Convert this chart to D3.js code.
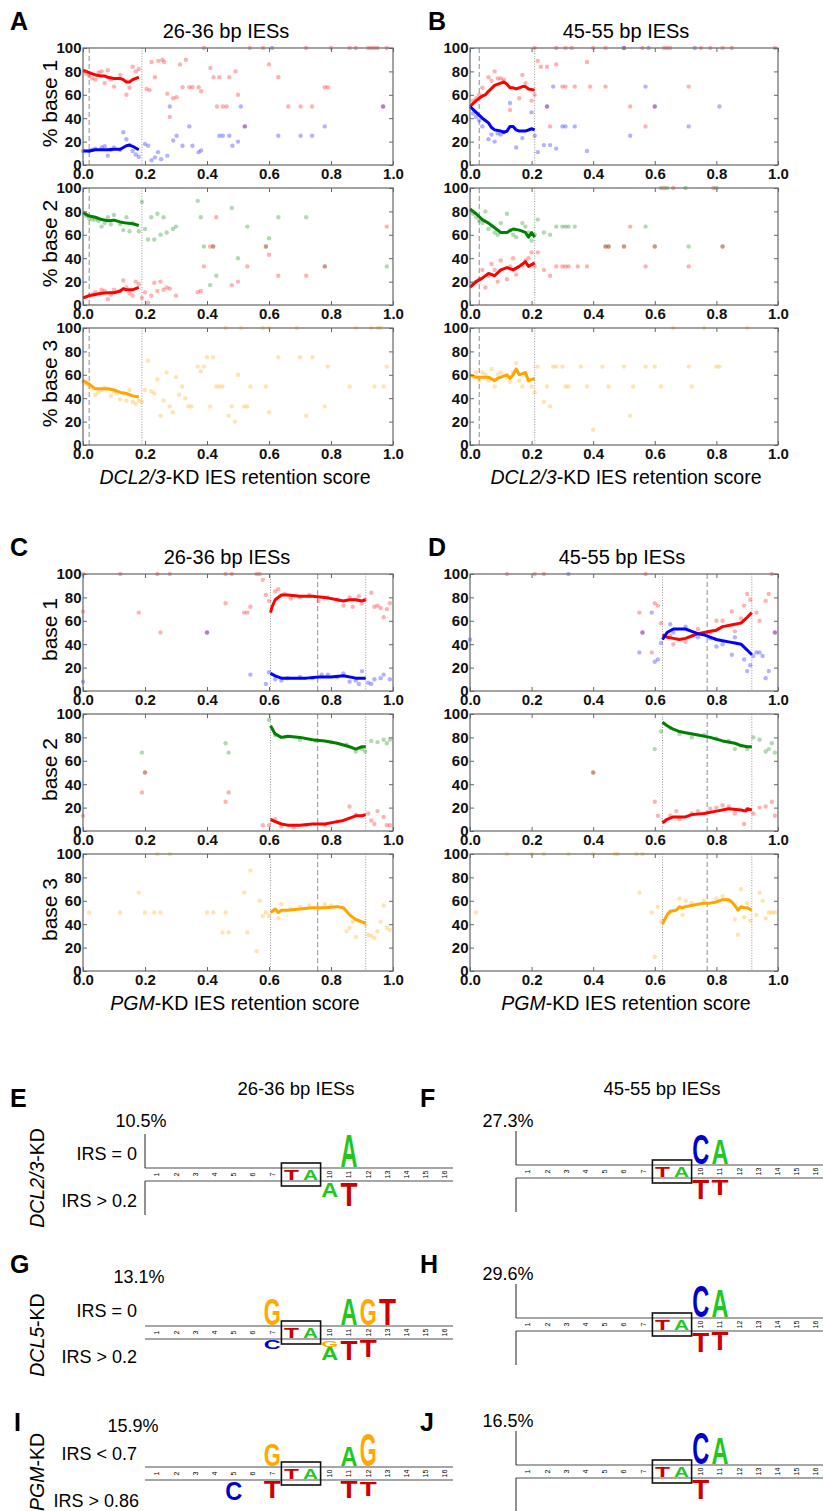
<!DOCTYPE html>
<html>
<head>
<meta charset="utf-8">
<script src="https://cdn.jsdelivr.net/npm/d3@7"></script>
<style>
  body { margin: 0; background: #fff; }
  svg { font-family: "Liberation Sans", Arial, sans-serif; }
</style>
</head>
<body>
<div id="fig"></div>
<script>
// ---------- data ----------
const xTicks = [0, 0.2, 0.4, 0.6, 0.8, 1.0];
const yTicks = [0, 20, 40, 60, 80, 100];

// panel A (DCL2/3-KD, 26-36 bp)
const aB1Red = [[0.01,78],[0.02,76],[0.03,74],[0.04,73],[0.05,79],[0.06,80],[0.07,70],[0.08,81],[0.09,73],[0.10,67],[0.12,77],[0.14,60],[0.15,66],[0.16,84],[0.17,80],[0.18,82],[0.205,65],[0.215,64],[0.221,88],[0.232,75],[0.243,89],[0.256,90],[0.262,88],[0.272,61],[0.28,41],[0.291,57],[0.302,58],[0.313,86],[0.321,66.5],[0.332,90],[0.343,66.5],[0.353,66.5],[0.373,66.5],[0.381,63],[0.39,100],[0.411,83],[0.421,75],[0.432,50],[0.44,75],[0.451,50],[0.463,50],[0.472,75],[0.492,80],[0.50,60],[0.522,33],[0.538,100],[0.581,100],[0.60,86],[0.63,75],[0.662,50],[0.702,50],[0.72,100],[0.739,50],[0.78,66.5],[0.79,66.5],[0.80,100],[0.86,100],[0.88,100],[0.92,100],[0.93,100],[0.94,100],[0.95,100],[0.968,50],[0.98,100]];
const aB1Blue = [[0.0,12],[0.02,12],[0.03,13],[0.04,14],[0.06,15],[0.07,16],[0.08,8],[0.09,13],[0.10,15],[0.12,13],[0.13,28],[0.14,22],[0.15,17],[0.16,12],[0.17,9],[0.18,7],[0.20,18],[0.21,16.5],[0.221,4],[0.232,6.5],[0.242,11],[0.252,5],[0.272,8],[0.28,50],[0.291,21],[0.302,25],[0.321,16.5],[0.343,33],[0.353,16.5],[0.373,11],[0.381,12.5],[0.44,25],[0.451,25],[0.472,25],[0.482,16.5],[0.50,20],[0.509,50],[0.522,33],[0.61,100],[0.63,25],[0.702,25],[0.739,25],[0.78,33],[0.968,50]];
const aB1RedLine = [[0,81],[0.02,79],[0.04,77],[0.06,76],[0.07,76],[0.08,75],[0.10,74],[0.12,74],[0.13,73],[0.14,71],[0.15,71],[0.16,73],[0.18,75]];
const aB1BlueLine = [[0,12],[0.02,12],[0.04,13],[0.06,13],[0.08,13],[0.10,13.5],[0.12,13.5],[0.13,15],[0.14,16.5],[0.15,17],[0.16,16],[0.18,13]];
const aB2Green = [[0.01,76],[0.02,74],[0.03,73],[0.04,73],[0.05,72],[0.06,67],[0.07,70],[0.08,75],[0.09,69],[0.10,77],[0.12,69],[0.13,64],[0.14,75],[0.15,63],[0.16,70],[0.18,63],[0.19,88],[0.20,65],[0.21,56],[0.22,75],[0.23,56],[0.24,78],[0.25,60],[0.26,75],[0.27,62],[0.29,65],[0.30,67],[0.37,89],[0.38,75],[0.39,50],[0.41,17],[0.42,50],[0.43,25],[0.48,83],[0.50,40],[0.53,67],[0.59,50],[0.60,57],[0.63,75],[0.72,75],[0.78,33],[0.98,33]];
const aB2Red = [[0.02,8],[0.03,9],[0.04,11],[0.06,13],[0.07,12],[0.08,5],[0.09,9],[0.10,13],[0.12,12],[0.13,21],[0.14,15],[0.15,10],[0.16,8],[0.17,20],[0.18,18],[0.19,6],[0.20,11],[0.21,2],[0.22,8],[0.23,19],[0.24,12],[0.25,20],[0.26,13],[0.27,15],[0.28,14],[0.30,8],[0.37,11],[0.38,12],[0.39,33],[0.41,50],[0.42,50],[0.43,75],[0.48,17],[0.50,20],[0.53,33],[0.59,50],[0.60,43],[0.63,25],[0.72,25],[0.78,33],[0.98,67]];
const aB2GreenLine = [[0,79],[0.02,76],[0.04,75],[0.06,73],[0.08,72],[0.10,72.5],[0.12,71],[0.14,70],[0.16,69.5],[0.18,68]];
const aB2RedLine = [[0,6],[0.02,8],[0.04,9],[0.06,10],[0.08,10.5],[0.10,10.5],[0.12,12],[0.13,14],[0.14,13],[0.16,13],[0.18,15]];
const aB3Orange = [[0.0,54],[0.01,52],[0.02,50],[0.03,48],[0.04,43],[0.05,45],[0.06,47],[0.07,49],[0.08,48],[0.09,42],[0.10,46],[0.11,44],[0.12,39],[0.13,44],[0.14,38],[0.15,47],[0.16,37],[0.17,35],[0.18,38],[0.19,37],[0.20,47],[0.21,72],[0.22,46],[0.23,44],[0.24,56],[0.25,25],[0.26,38],[0.27,62],[0.28,33],[0.29,28],[0.30,58],[0.31,43],[0.32,50],[0.33,40],[0.34,33],[0.35,33],[0.37,67],[0.38,63],[0.39,67],[0.40,75],[0.41,33],[0.42,75],[0.43,50],[0.44,50],[0.45,50],[0.46,100],[0.47,25],[0.48,33],[0.49,20],[0.50,60],[0.51,100],[0.52,33],[0.53,33],[0.54,50],[0.58,100],[0.59,50],[0.60,28],[0.60,100],[0.63,75],[0.69,100],[0.70,75],[0.72,25],[0.74,75],[0.78,33],[0.79,67],[0.86,50],[0.88,100],[0.93,100],[0.94,50],[0.95,100],[0.96,100],[0.97,50],[0.98,67]];
const aB3OrangeLine = [[0,55],[0.02,52],[0.04,48],[0.06,48],[0.08,48],[0.10,47],[0.12,45],[0.14,44],[0.16,42],[0.18,41]];

// panel B (DCL2/3-KD, 45-55 bp)
const bB1Red = [[0.01,55],[0.02,57],[0.03,60],[0.04,66],[0.06,75],[0.07,72],[0.08,80],[0.09,74],[0.10,74],[0.11,73],[0.13,47],[0.16,57],[0.17,77],[0.18,70],[0.20,55],[0.21,60],[0.21,100],[0.22,89],[0.23,84],[0.25,84],[0.25,50],[0.26,33],[0.28,86],[0.28,100],[0.30,67],[0.31,67],[0.31,100],[0.33,100],[0.34,67],[0.38,88],[0.39,67],[0.40,100],[0.44,67],[0.44,100],[0.50,100],[0.52,50],[0.56,100],[0.57,33],[0.60,50],[0.63,100],[0.64,100],[0.65,100],[0.71,67],[0.75,100],[0.78,100],[0.82,100],[0.85,100],[0.99,100]];
const bB1Blue = [[0.01,44],[0.02,41],[0.03,38],[0.04,33],[0.06,22],[0.07,26],[0.08,20],[0.09,27],[0.10,26],[0.11,28],[0.13,53],[0.15,15],[0.17,23],[0.20,45],[0.21,25],[0.22,11],[0.24,17],[0.25,50],[0.26,17],[0.27,67],[0.28,14],[0.30,33],[0.31,33],[0.34,33],[0.38,12],[0.50,100],[0.52,25],[0.57,67],[0.58,100],[0.60,50],[0.71,33],[0.73,100],[0.81,50]];
const bB1RedLine = [[0,50],[0.02,55],[0.04,59],[0.05,60],[0.06,63],[0.08,68],[0.10,70],[0.11,71],[0.12,69],[0.13,66],[0.14,66],[0.15,65],[0.16,66],[0.17,67],[0.18,67],[0.19,65],[0.21,64]];
const bB1BlueLine = [[0,50],[0.02,45],[0.04,40],[0.05,38],[0.06,36],[0.07,32],[0.08,30],[0.10,29],[0.11,28],[0.12,29],[0.13,33],[0.14,33],[0.15,30],[0.16,29],[0.18,29],[0.20,31],[0.21,30]];
const bB2Green = [[0.01,78],[0.02,75],[0.03,72],[0.04,70],[0.05,80],[0.06,65],[0.07,68],[0.08,62],[0.09,60],[0.10,70],[0.12,78],[0.13,64],[0.14,60],[0.15,58],[0.17,70],[0.18,67],[0.19,62],[0.20,55],[0.21,60],[0.22,73],[0.24,62],[0.26,60],[0.28,67],[0.30,67],[0.31,67],[0.32,67],[0.34,67],[0.44,50],[0.45,50],[0.50,50],[0.57,67],[0.60,50],[0.62,100],[0.64,100],[0.70,100],[0.71,50],[0.80,100],[0.82,50]];
const bB2Red = [[0.01,18],[0.02,20],[0.03,22],[0.04,30],[0.05,15],[0.06,25],[0.07,35],[0.08,30],[0.09,20],[0.10,38],[0.12,22],[0.13,33],[0.14,40],[0.15,26],[0.17,34],[0.18,38],[0.19,40],[0.20,45],[0.21,33],[0.22,45],[0.24,30],[0.26,25],[0.28,33],[0.30,33],[0.31,33],[0.32,33],[0.35,33],[0.38,33],[0.44,50],[0.45,50],[0.50,50],[0.52,67],[0.57,33],[0.60,50],[0.63,100],[0.66,100],[0.71,33],[0.79,100],[0.82,50]];
const bB2GreenLine = [[0,82],[0.02,78],[0.04,73],[0.06,70],[0.08,66],[0.10,62],[0.12,62],[0.14,65],[0.16,64],[0.18,62],[0.19,58],[0.20,62],[0.21,58]];
const bB2RedLine = [[0,15],[0.02,20],[0.04,23],[0.06,27],[0.08,25],[0.10,30],[0.12,32],[0.14,30],[0.16,33],[0.18,37],[0.19,33],[0.21,36]];
const bB3Orange = [[0.01,58],[0.02,62],[0.03,55],[0.04,62],[0.05,60],[0.06,55],[0.07,65],[0.08,50],[0.09,60],[0.10,62],[0.12,58],[0.13,54],[0.14,62],[0.15,70],[0.16,55],[0.17,50],[0.18,60],[0.19,55],[0.20,50],[0.21,45],[0.22,67],[0.24,37],[0.25,50],[0.26,33],[0.27,67],[0.28,67],[0.30,67],[0.31,50],[0.32,50],[0.36,67],[0.38,50],[0.40,13],[0.43,67],[0.45,50],[0.50,67],[0.52,25],[0.53,50],[0.57,67],[0.60,67],[0.62,50],[0.66,100],[0.71,67],[0.72,50],[0.76,100],[0.80,67],[0.81,67],[0.90,100]];
const bB3OrangeLine = [[0,60],[0.02,58],[0.04,58],[0.06,58],[0.08,55],[0.09,57],[0.10,58],[0.12,60],[0.13,57],[0.14,60],[0.15,65],[0.16,60],[0.18,62],[0.19,55],[0.21,57]];

// panel C (PGM-KD, 26-36 bp)
const cB1Red = [[0.0,68],[0.0,100],[0.12,100],[0.18,67],[0.24,100],[0.25,50],[0.28,100],[0.40,50],[0.46,75],[0.46,100],[0.48,100],[0.52,67],[0.53,67],[0.54,72],[0.56,100],[0.57,100],[0.58,95],[0.59,82],[0.60,77],[0.62,85],[0.63,87],[0.65,83],[0.67,79],[0.70,80],[0.73,82],[0.76,77],[0.79,80],[0.82,78],[0.84,73],[0.86,80],[0.87,72],[0.89,81],[0.90,75],[0.91,78],[0.93,84],[0.94,72],[0.95,73],[0.96,71],[0.97,63],[0.98,70],[0.99,75]];
const cB1Blue = [[0.0,8],[0.40,50],[0.54,14],[0.59,6],[0.60,16],[0.62,10],[0.64,9],[0.66,11],[0.70,12],[0.74,11],[0.77,14],[0.79,14],[0.82,12],[0.84,15],[0.86,8],[0.88,9],[0.89,6],[0.90,17],[0.92,7],[0.93,6],[0.94,10],[0.96,11],[0.97,14],[0.99,10]];
const cB1RedLine = [[0.605,67],[0.61,72],[0.62,78],[0.64,82],[0.66,82],[0.70,81],[0.74,81],[0.78,80],[0.82,78],[0.84,77],[0.86,78],[0.88,78],[0.90,77],[0.912,78]];
const cB1BlueLine = [[0.605,15],[0.62,13],[0.64,11],[0.68,11],[0.72,11],[0.76,12],[0.80,12],[0.84,13],[0.88,11],[0.90,11],[0.912,11]];
const cB2Green = [[0.19,67],[0.20,50],[0.46,75],[0.47,67],[0.60,95],[0.62,82],[0.65,80],[0.70,78],[0.75,77],[0.80,76],[0.85,74],[0.88,68],[0.90,70],[0.91,68],[0.93,77],[0.95,76],[0.97,78],[0.98,75],[0.99,78]];
const cB2Red = [[0.0,13],[0.19,33],[0.20,50],[0.46,25],[0.47,33],[0.58,5],[0.60,5],[0.62,10],[0.64,4],[0.68,3],[0.72,5],[0.78,5],[0.82,8],[0.86,21],[0.88,14],[0.92,15],[0.93,9],[0.94,6],[0.95,17],[0.97,12],[0.98,5],[0.99,5]];
const cB2GreenLine = [[0.605,90],[0.62,83],[0.64,80],[0.66,81],[0.70,80],[0.74,78],[0.78,77],[0.82,75],[0.86,72],[0.88,70],[0.90,72],[0.912,72]];
const cB2RedLine = [[0.605,10],[0.62,8],[0.64,6],[0.66,5],[0.70,5],[0.74,6],[0.78,6],[0.82,8],[0.84,9],[0.86,11],[0.88,13],[0.90,13],[0.912,14]];
const cB3Orange = [[0.02,50],[0.12,50],[0.18,67],[0.20,50],[0.23,50],[0.24,100],[0.25,50],[0.28,100],[0.40,50],[0.42,50],[0.45,33],[0.46,50],[0.47,33],[0.52,67],[0.53,33],[0.54,86],[0.56,17],[0.57,60],[0.58,47],[0.59,50],[0.60,47],[0.62,52],[0.63,45],[0.64,57],[0.67,53],[0.70,55],[0.73,56],[0.76,53],[0.78,57],[0.80,56],[0.85,34],[0.86,37],[0.87,42],[0.88,29],[0.89,43],[0.91,39],[0.92,31],[0.93,30],[0.94,28],[0.95,34],[0.96,42],[0.97,56],[0.98,37],[0.99,35]];
const cB3OrangeLine = [[0.605,50],[0.62,53],[0.63,50],[0.64,52],[0.66,52],[0.70,53],[0.74,54],[0.78,54],[0.82,55],[0.84,54],[0.86,48],[0.88,44],[0.90,42],[0.912,41]];

// panel D (PGM-KD, 45-55 bp)
const dB1Red = [[0.12,100],[0.21,100],[0.24,100],[0.55,67],[0.56,50],[0.57,100],[0.59,33],[0.60,75],[0.61,73],[0.62,58],[0.65,47],[0.66,40],[0.70,42],[0.74,53],[0.78,50],[0.80,60],[0.82,60],[0.85,68],[0.86,51],[0.88,62],[0.89,73],[0.90,83],[0.91,78],[0.93,67],[0.94,60],[0.96,77],[0.97,83],[0.98,100],[0.99,50]];
const dB1Blue = [[0.0,44],[0.32,100],[0.55,33],[0.56,50],[0.59,67],[0.60,25],[0.61,27],[0.62,41],[0.65,57],[0.66,50],[0.70,55],[0.74,46],[0.78,45],[0.80,38],[0.82,40],[0.85,31],[0.86,46],[0.89,27],[0.90,17],[0.91,22],[0.92,30],[0.93,33],[0.94,33],[0.95,30],[0.96,11],[0.97,17],[0.99,50]];
const dB1RedLine = [[0.625,48],[0.64,46],[0.66,45],[0.68,44],[0.70,45],[0.72,47],[0.74,49],[0.76,50],[0.78,51],[0.80,52],[0.82,55],[0.84,56],[0.86,57],[0.88,58],[0.90,63],[0.915,67]];
const dB1BlueLine = [[0.625,44],[0.64,50],[0.66,53],[0.68,53],[0.70,53],[0.72,51],[0.74,49],[0.76,48],[0.78,46],[0.80,44],[0.82,43],[0.84,42],[0.86,41],[0.88,40],[0.90,35],[0.915,31]];
const dB2Green = [[0.40,50],[0.60,70],[0.62,85],[0.65,88],[0.68,83],[0.72,80],[0.76,82],[0.80,79],[0.84,77],[0.86,70],[0.88,73],[0.90,70],[0.92,80],[0.94,78],[0.96,68],[0.97,70],[0.98,75],[0.99,67]];
const dB2Red = [[0.40,50],[0.60,25],[0.61,13],[0.63,8],[0.65,13],[0.67,17],[0.68,10],[0.72,15],[0.74,17],[0.78,19],[0.80,20],[0.82,22],[0.84,21],[0.86,15],[0.89,6],[0.90,18],[0.92,15],[0.94,20],[0.96,21],[0.98,25],[0.99,13]];
const dB2GreenLine = [[0.625,93],[0.64,90],[0.66,87],[0.68,85],[0.70,84],[0.74,82],[0.78,80],[0.82,77],[0.86,75],[0.88,73],[0.90,72],[0.915,72]];
const dB2RedLine = [[0.625,7],[0.64,10],[0.66,12],[0.68,12],[0.70,12],[0.72,14],[0.76,15],[0.80,17],[0.84,19],[0.88,18],[0.895,17],[0.90,19],[0.915,18]];
const dB3Orange = [[0.02,50],[0.12,100],[0.20,100],[0.24,100],[0.32,100],[0.40,100],[0.47,100],[0.48,100],[0.54,100],[0.55,67],[0.56,100],[0.59,50],[0.60,12],[0.61,55],[0.62,42],[0.65,50],[0.68,62],[0.69,48],[0.70,60],[0.72,58],[0.76,60],[0.80,62],[0.82,64],[0.84,60],[0.86,44],[0.87,31],[0.88,70],[0.89,46],[0.90,58],[0.91,43],[0.93,48],[0.94,67],[0.95,60],[0.96,45],[0.97,50],[0.98,50],[0.99,50]];
const dB3OrangeLine = [[0.625,40],[0.63,43],[0.64,48],[0.65,51],[0.67,52],[0.68,55],[0.69,54],[0.70,55],[0.72,56],[0.74,57],[0.76,58],[0.78,58],[0.80,59],[0.82,61],[0.84,61],[0.85,59],[0.86,56],[0.87,52],[0.88,55],[0.89,54],[0.90,54],[0.915,52]];

// sequence logos: positions, percentages, letters (height in bits-like units, stacked outward from the axis)
const logoPositions = [1,2,3,4,5,6,7,8,9,10,11,12,13,14,15,16];
const logoPct = ["10.5%", "27.3%", "13.1%", "29.6%", "15.9%", "16.5%"];
const eAbove = [{pos:11, stack:[["A",1.0]]}];
const eBelow = [{pos:10, stack:[["A",0.46]]}, {pos:11, stack:[["T",0.72]]}];
const fAbove = [{pos:10, stack:[["C",0.92]]}, {pos:11, stack:[["A",0.78]]}];
const fBelow = [{pos:10, stack:[["T",0.62]]}, {pos:11, stack:[["T",0.48]]}];
const gAbove = [{pos:7, stack:[["G",0.82]]}, {pos:11, stack:[["A",0.82]]}, {pos:12, stack:[["G",0.82]]}, {pos:13, stack:[["T",0.82]]}];
const gBelow = [{pos:7, stack:[["C",0.28]]}, {pos:10, stack:[["G",0.2],["A",0.42]]}, {pos:11, stack:[["T",0.6]]}, {pos:12, stack:[["T",0.52]]}];
const hAbove = [{pos:10, stack:[["C",0.95]]}, {pos:11, stack:[["A",0.85]]}];
const hBelow = [{pos:10, stack:[["T",0.6]]}, {pos:11, stack:[["T",0.55]]}];
const iAbove = [{pos:7, stack:[["G",0.67]]}, {pos:11, stack:[["A",0.6]]}, {pos:12, stack:[["G",1.0]]}];
const iBelow = [{pos:5, stack:[["C",0.58]]}, {pos:7, stack:[["T",0.52]]}, {pos:11, stack:[["T",0.52]]}, {pos:12, stack:[["T",0.44]]}];
const jAbove = [{pos:10, stack:[["C",0.95]]}, {pos:11, stack:[["A",0.8]]}];
const jBelow = [{pos:10, stack:[["T",0.6]]}];

// ---------- drawing ----------
const W = 823, H = 1511;
const svg = d3.select("#fig").append("svg").attr("width", W).attr("height", H);

const col = {red: "#ff0000", blue: "#0000ff", green: "#008000", orange: "#ffa500"};
const plotH = 117, rowStep = 140;
const fmt = d3.format(".1f");

function drawRow(g, w, row, vlines, ylabel) {
  const x = d3.scaleLinear().domain([0, 1]).range([0, w]);
  const y = d3.scaleLinear().domain([0, 100]).range([plotH, 0]);

  // reference lines
  vlines.forEach(v => {
    g.append("line")
      .attr("x1", x(v[0])).attr("x2", x(v[0]))
      .attr("y1", 0).attr("y2", plotH)
      .attr("stroke", v[1] == "dash" ? "#999" : "#888")
      .attr("stroke-width", v[1] == "dash" ? 1.1 : 0.9)
      .attr("stroke-dasharray", v[1] == "dash" ? "5,3" : "1,1.6");
  });

  row.pts.forEach(s => {
    g.append("g").selectAll("circle").data(s[0]).join("circle")
      .attr("cx", d => x(d[0])).attr("cy", d => y(d[1]))
      .attr("r", 2.2)
      .attr("fill", col[s[1]]).attr("fill-opacity", 0.3);
  });

  const line = d3.line().x(d => x(d[0])).y(d => y(d[1]));
  row.lines.forEach(s => {
    g.append("path").attr("d", line(s[0]))
      .attr("fill", "none").attr("stroke", col[s[1]])
      .attr("stroke-width", 3).attr("stroke-linejoin", "round");
  });

  // frame with inward ticks
  g.append("rect").attr("width", w).attr("height", plotH)
    .attr("fill", "none").attr("stroke", "#666").attr("stroke-width", 1.2);

  const xb = g.append("g").attr("transform", `translate(0,${plotH})`)
    .call(d3.axisBottom(x).tickValues(xTicks).tickFormat(fmt).tickSizeInner(-4).tickSizeOuter(0).tickPadding(3));
  const xt = g.append("g")
    .call(d3.axisTop(x).tickValues(xTicks).tickFormat("").tickSizeInner(-4).tickSizeOuter(0));
  const yl = g.append("g")
    .call(d3.axisLeft(y).tickValues(yTicks).tickSizeInner(-4).tickSizeOuter(0).tickPadding(1.5));
  const yr = g.append("g").attr("transform", `translate(${w},0)`)
    .call(d3.axisRight(y).tickValues(yTicks).tickFormat("").tickSizeInner(-4).tickSizeOuter(0));
  [xb, xt, yl, yr].forEach(a => {
    a.select(".domain").remove();
    a.selectAll(".tick line").attr("stroke", "#666");
    a.selectAll("text").attr("font-size", 15).attr("font-weight", "bold")
      .attr("font-family", "'Liberation Sans', Arial, sans-serif").attr("fill", "#111");
  });

  if (ylabel) {
    g.append("text").attr("transform", `translate(-26,${plotH / 2 - 3}) rotate(-90)`)
      .attr("text-anchor", "middle").attr("font-size", 21).text(ylabel);
  }
}

const panels = [
  {letter: "A", left: 83, w: 310, top: 48, title: "26-36 bp IESs", titleX: 226, ylabel: "% base ", kd: "DCL2/3", xlabX: 235,
   vlines: [[0.02, "dash"], [0.19, "dot"]],
   rows: [
     {pts: [[aB1Red, "red"], [aB1Blue, "blue"]], lines: [[aB1RedLine, "red"], [aB1BlueLine, "blue"]]},
     {pts: [[aB2Green, "green"], [aB2Red, "red"]], lines: [[aB2GreenLine, "green"], [aB2RedLine, "red"]]},
     {pts: [[aB3Orange, "orange"]], lines: [[aB3OrangeLine, "orange"]]}]},
  {letter: "B", left: 470, w: 308, top: 48, title: "45-55 bp IESs", titleX: 626, ylabel: null, kd: "DCL2/3", xlabX: 626,
   vlines: [[0.03, "dash"], [0.21, "dot"]],
   rows: [
     {pts: [[bB1Red, "red"], [bB1Blue, "blue"]], lines: [[bB1RedLine, "red"], [bB1BlueLine, "blue"]]},
     {pts: [[bB2Green, "green"], [bB2Red, "red"]], lines: [[bB2GreenLine, "green"], [bB2RedLine, "red"]]},
     {pts: [[bB3Orange, "orange"]], lines: [[bB3OrangeLine, "orange"]]}]},
  {letter: "C", left: 83, w: 310, top: 574, title: "26-36 bp IESs", titleX: 227, ylabel: "base ", kd: "PGM", xlabX: 235,
   vlines: [[0.605, "dot"], [0.757, "dash"], [0.912, "dot"]],
   rows: [
     {pts: [[cB1Red, "red"], [cB1Blue, "blue"]], lines: [[cB1RedLine, "red"], [cB1BlueLine, "blue"]]},
     {pts: [[cB2Green, "green"], [cB2Red, "red"]], lines: [[cB2GreenLine, "green"], [cB2RedLine, "red"]]},
     {pts: [[cB3Orange, "orange"]], lines: [[cB3OrangeLine, "orange"]]}]},
  {letter: "D", left: 470, w: 308, top: 574, title: "45-55 bp IESs", titleX: 622, ylabel: null, kd: "PGM", xlabX: 626,
   vlines: [[0.625, "dot"], [0.77, "dash"], [0.915, "dot"]],
   rows: [
     {pts: [[dB1Red, "red"], [dB1Blue, "blue"]], lines: [[dB1RedLine, "red"], [dB1BlueLine, "blue"]]},
     {pts: [[dB2Green, "green"], [dB2Red, "red"]], lines: [[dB2GreenLine, "green"], [dB2RedLine, "red"]]},
     {pts: [[dB3Orange, "orange"]], lines: [[dB3OrangeLine, "orange"]]}]}
];

panels.forEach(p => {
  svg.append("text").attr("x", p.left - 73 + (p.left > 400 ? 31 : 0)).attr("y", p.top - 18)
    .attr("font-size", 25).attr("font-weight", "bold").text(p.letter);
  svg.append("text").attr("x", p.titleX).attr("y", p.top - 10)
    .attr("text-anchor", "middle").attr("font-size", 20).text(p.title);
  p.rows.forEach((r, i) => {
    const g = svg.append("g").attr("transform", `translate(${p.left},${p.top + i * rowStep})`);
    drawRow(g, p.w, r, p.vlines, p.ylabel ? p.ylabel + (i + 1) : null);
  });
  const xl = svg.append("text").attr("x", p.xlabX).attr("y", p.top + 2 * rowStep + plotH + 39)
    .attr("text-anchor", "middle").attr("font-size", 19.5);
  xl.append("tspan").attr("font-style", "italic").text(p.kd);
  xl.append("tspan").text("-KD IES retention score");
});

// ---------- logos ----------
const letterCol = {A: "#1ec81e", C: "#0000cc", G: "#ffa800", T: "#cc0000"};
const bits = d3.scaleLinear().domain([0, 1]).range([0, 33]);

function glyph(g, ch, cx, top, w, h) {
  const t = g.append("text").text(ch).attr("font-size", 100).attr("font-weight", "bold")
    .attr("fill", letterCol[ch]);
  const adv = t.node().getComputedTextLength();
  const sx = w / adv, sy = h / 72;
  t.attr("transform", `translate(${cx - w / 2},${top + h}) scale(${sx},${sy})`);
}

function drawLogo(L) {
  const g = svg.append("g");
  const px = d3.scaleLinear().domain([1, 16]).range([L.axisX + 12, L.axisX + 12 + 15 * 19.2]);
  const bandT = L.bandY, bandB = L.bandY + 13;
  const right = px(16) + 8;
  g.append("line").attr("x1", L.axisX).attr("x2", right).attr("y1", bandT).attr("y2", bandT)
    .attr("stroke", "#888").attr("stroke-width", 1.4);
  g.append("line").attr("x1", L.axisX).attr("x2", right).attr("y1", bandB).attr("y2", bandB)
    .attr("stroke", "#888").attr("stroke-width", 1.4);
  if (L.vaxis) {
    g.append("line").attr("x1", L.axisX).attr("x2", L.axisX).attr("y1", bandT - 34).attr("y2", bandT).attr("stroke", "#222");
    g.append("line").attr("x1", L.axisX).attr("x2", L.axisX).attr("y1", bandB).attr("y2", bandB + 34).attr("stroke", "#222");
  }
  logoPositions.forEach(p => {
    if (p == 8 || p == 9) return;
    g.append("text").attr("transform", `translate(${px(p) + 2.3},${bandT + 6.5}) rotate(-90)`)
      .attr("text-anchor", "middle").attr("font-size", 7).text(p);
  });
  glyph(g, "T", px(8), bandT + 1.5, 15, bandB - bandT - 3);
  glyph(g, "A", px(9), bandT + 1.5, 15, bandB - bandT - 3);
  g.append("rect").attr("x", px(8) - 10).attr("y", bandT - 5).attr("width", px(9) - px(8) + 20).attr("height", bandB - bandT + 10)
    .attr("fill", "none").attr("stroke", "#111").attr("stroke-width", 1.6);
  L.above.forEach(c => {
    let base = bandT - 1;
    c.stack.forEach(s => {
      const h = bits(s[1]);
      glyph(g, s[0], px(c.pos), base - h, 17, h);
      base -= h;
    });
  });
  L.below.forEach(c => {
    let base = bandB + 1;
    c.stack.forEach(s => {
      const h = bits(s[1]);
      glyph(g, s[0], px(c.pos), base, 17, h);
      base += h;
    });
  });
}

const logos = [
  {axisX: 145, bandY: 1168, vaxis: true, above: eAbove, below: eBelow},
  {axisX: 516, bandY: 1165, vaxis: true, above: fAbove, below: fBelow},
  {axisX: 145, bandY: 1326, vaxis: false, above: gAbove, below: gBelow},
  {axisX: 516, bandY: 1318, vaxis: true, above: hAbove, below: hBelow},
  {axisX: 145, bandY: 1467, vaxis: false, above: iAbove, below: iBelow},
  {axisX: 516, bandY: 1465, vaxis: true, above: jAbove, below: jBelow}
];
logos.forEach(drawLogo);

// logo texts
const txt = (x, y, s, o) => {
  const t = svg.append("text").attr("x", x).attr("y", y).text(s).attr("font-size", (o && o.size) || 18);
  if (o && o.anchor) t.attr("text-anchor", o.anchor);
  if (o && o.bold) t.attr("font-weight", "bold");
  return t;
};
txt(10, 1107, "E", {size: 25, bold: true});
txt(420, 1107, "F", {size: 25, bold: true});
txt(10, 1273, "G", {size: 25, bold: true});
txt(420, 1273, "H", {size: 25, bold: true});
txt(14, 1431, "I", {size: 25, bold: true});
txt(420, 1431, "J", {size: 25, bold: true});
txt(296, 1095, "26-36 bp IESs", {size: 18.5, anchor: "middle"});
txt(662, 1095, "45-55 bp IESs", {size: 18.5, anchor: "middle"});
[[141, 1127], [508, 1127], [139, 1283], [508, 1280], [133, 1432], [508, 1427]].forEach((p, i) => txt(p[0], p[1], logoPct[i], {anchor: "middle"}));
txt(137, 1160, "IRS = 0", {anchor: "end"});
txt(137, 1207, "IRS > 0.2", {anchor: "end"});
txt(137, 1317, "IRS = 0", {anchor: "end"});
txt(137, 1363, "IRS > 0.2", {anchor: "end"});
txt(137, 1460, "IRS < 0.7", {anchor: "end"});
txt(139, 1507, "IRS > 0.86", {anchor: "end"});

function sideLabel(cy, it, rest) {
  const t = svg.append("text").attr("transform", `translate(44,${cy}) rotate(-90)`)
    .attr("text-anchor", "middle").attr("font-size", 19.5);
  t.append("tspan").attr("font-style", "italic").text(it);
  t.append("tspan").text(rest);
}
sideLabel(1178, "DCL2/3", "-KD");
sideLabel(1335, "DCL5", "-KD");
sideLabel(1472, "PGM", "-KD");
</script>
</body>
</html>
